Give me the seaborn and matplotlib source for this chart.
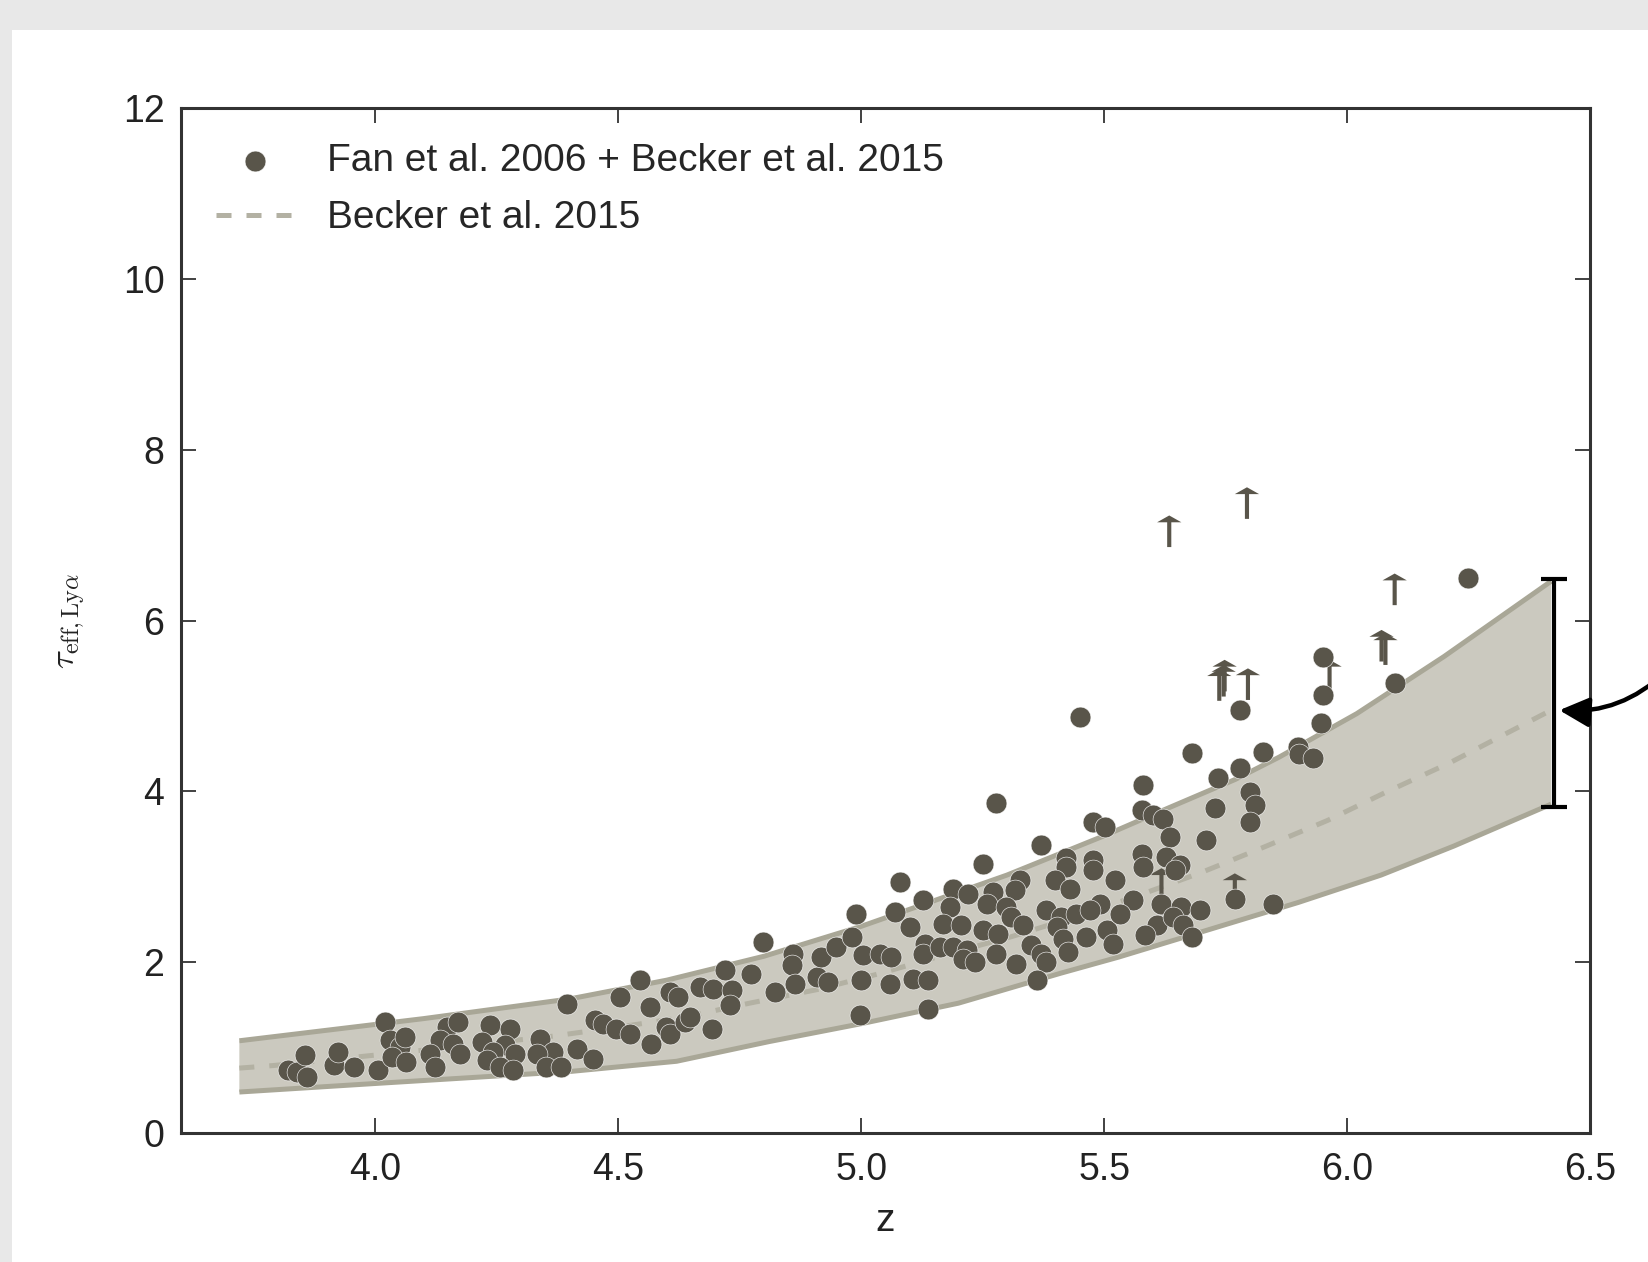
import numpy as np
import pandas as pd
import matplotlib
matplotlib.use("Agg")
import matplotlib.pyplot as plt
from matplotlib.patches import Rectangle
import seaborn as sns

# ---- Lyman-alpha effective optical depth measurements (detections) ----
z_obs = [3.821, 3.838, 3.855, 3.859, 3.914, 3.924, 3.955, 4.020, 4.030, 4.051,
         4.061, 4.006, 4.034, 4.064, 4.147, 4.171, 4.133, 4.160, 4.112, 4.174,
         4.123, 4.236, 4.277, 4.219, 4.267, 4.243, 4.287, 4.229, 4.256, 4.284,
         4.339, 4.366, 4.332, 4.352, 4.383, 4.394, 4.414,
         4.448, 4.452, 4.469, 4.503, 4.496, 4.524, 4.544, 4.565, 4.568, 4.599,
         4.606, 4.623, 4.606, 4.637, 4.647, 4.668, 4.695, 4.692, 4.719, 4.733,
         4.730, 4.774, 4.798, 4.822, 4.860, 4.857, 4.863, 4.908, 4.918, 4.932,
         4.949, 4.980, 4.990, 4.997, 5.004, 5.000,
         5.278, 5.477, 5.501, 5.371, 5.251, 5.079, 5.422, 5.477, 5.477, 5.422,
         5.522, 5.398, 5.429, 5.069, 5.128, 5.189, 5.220, 5.182, 5.271, 5.326,
         5.316, 5.258, 5.299, 5.100, 5.169, 5.206, 5.251, 5.282, 5.309, 5.333,
         5.381, 5.412, 5.443, 5.491, 5.470, 5.402, 5.416, 5.463, 5.505, 5.518,
         5.038, 5.062, 5.131, 5.127, 5.162, 5.189, 5.217, 5.210, 5.234, 5.278,
         5.319, 5.350, 5.371, 5.381, 5.426, 5.059, 5.107, 5.138, 5.138, 5.361,
         5.680, 5.827, 5.580, 5.734, 5.779, 5.800, 5.810, 5.800, 5.728, 5.577,
         5.601, 5.621, 5.635, 5.710, 5.577, 5.580, 5.628, 5.656, 5.645, 5.618,
         5.769, 5.659, 5.697, 5.848, 5.560, 5.608, 5.584, 5.642, 5.662, 5.680,
         5.532,
         6.249, 5.950, 5.950, 5.947, 5.899, 5.902, 5.930, 6.098,
         5.450, 5.779]
tau_obs = [0.734, 0.715, 0.910, 0.656, 0.793, 0.949, 0.774, 1.301, 1.086, 1.008,
           1.125, 0.734, 0.891, 0.832, 1.242, 1.301, 1.086, 1.047, 0.930, 0.930,
           0.774, 1.262, 1.223, 1.066, 1.027, 0.949, 0.930, 0.852, 0.774, 0.734,
           1.105, 0.949, 0.930, 0.774, 0.774, 1.515, 0.988,
           0.871, 1.320, 1.280, 1.590, 1.220, 1.164, 1.789, 1.476, 1.047, 1.242,
           1.652, 1.593, 1.164, 1.301, 1.359, 1.711, 1.691, 1.223, 1.906, 1.672,
           1.496, 1.867, 2.238, 1.652, 2.101, 1.964, 1.750, 1.828, 2.062, 1.769,
           2.179, 2.296, 2.570, 1.379, 2.082, 1.789,
           3.858, 3.643, 3.585, 3.370, 3.155, 2.940, 3.214, 3.194, 3.077, 3.116,
           2.960, 2.960, 2.862, 2.589, 2.726, 2.862, 2.804, 2.647, 2.823, 2.960,
           2.843, 2.686, 2.647, 2.413, 2.452, 2.433, 2.374, 2.335, 2.530, 2.433,
           2.608, 2.530, 2.569, 2.686, 2.608, 2.413, 2.277, 2.296, 2.374, 2.218,
           2.101, 2.062, 2.218, 2.101, 2.179, 2.179, 2.140, 2.042, 2.003, 2.101,
           1.984, 2.198, 2.101, 2.003, 2.120, 1.749, 1.808, 1.789, 1.456, 1.789,
           4.444, 4.463, 4.073, 4.151, 4.268, 3.995, 3.839, 3.643, 3.800, 3.780,
           3.721, 3.682, 3.468, 3.429, 3.272, 3.116, 3.233, 3.136, 3.077, 2.687,
           2.745, 2.648, 2.609, 2.687, 2.726, 2.433, 2.316, 2.530, 2.433, 2.296,
           2.570,
           6.493, 5.576, 5.127, 4.795, 4.521, 4.443, 4.385, 5.263,
           4.873, 4.952]

# ---- lower limits on tau (drawn as upward arrows) ----
z_lim = [5.634, 5.794, 6.098, 6.071, 6.079, 5.737, 5.748, 5.746, 5.796,
         5.964, 5.769, 5.618]
tau_lim = [6.86, 7.19, 6.18, 5.52, 5.48, 5.06, 5.17, 5.11, 5.07,
           5.17, 2.67, 2.73]

# ---- Becker et al. 2015 model: median and envelope ----
z_hi = [3.72, 4.10, 4.40, 4.60, 4.80, 5.00, 5.30, 5.50, 5.63, 5.77, 5.86,
        6.02, 6.20, 6.42]
tau_hi = [1.08, 1.34, 1.57, 1.79, 2.07, 2.42, 3.02, 3.48, 3.80, 4.14, 4.40,
          4.91, 5.58, 6.46]
z_lo = [3.72, 4.00, 4.40, 4.62, 4.81, 5.00, 5.20, 5.41, 5.53, 5.90, 6.07,
        6.22, 6.42]
tau_lo = [0.48, 0.58, 0.72, 0.84, 1.07, 1.28, 1.52, 1.87, 2.06, 2.70, 3.02,
          3.36, 3.85]
z_mid = [3.72, 3.79, 4.15, 4.36, 4.50, 4.63, 4.77, 4.91, 5.04, 5.18, 5.31,
         5.44, 5.57, 5.70, 5.83, 5.96, 6.08, 6.21, 6.42]
tau_mid = [0.76, 0.79, 1.00, 1.13, 1.24, 1.35, 1.52, 1.68, 1.87, 2.10, 2.30,
           2.53, 2.78, 3.05, 3.35, 3.66, 3.99, 4.33, 4.95]

# spread marker at the high-redshift end
z_spread = 6.425
tau_spread_lo, tau_spread_hi = 3.82, 6.49

x_ticks = [4.0, 4.5, 5.0, 5.5, 6.0, 6.5]
y_ticks = [0, 2, 4, 6, 8, 10, 12]

label_obs = "Fan et al. 2006 + Becker et al. 2015"
label_model = "Becker et al. 2015"

DOT = "#59554a"
FILL = "#cbc9bf"
EDGE = "#a9a797"
DASH = "#b3b1a3"
SPINE = "#333333"

sns.set_style("ticks")
plt.rcParams["font.family"] = ["Liberation Sans", "DejaVu Sans"]
plt.rcParams["mathtext.fontset"] = "cm"

fig = plt.figure(figsize=(16.49, 12.62), dpi=100)
fig.patch.set_facecolor("#e8e8e8")
fig.patches.append(Rectangle((12 / 1649, 0), 1, 1 - 30 / 1262,
                             transform=fig.transFigure, facecolor="white",
                             edgecolor="none", zorder=-10))
ax = fig.add_axes([0.1098, 0.1022, 0.9642 - 0.1098, 0.9144 - 0.1022])

# envelope
poly_z = list(z_hi) + list(z_lo[::-1])
poly_t = list(tau_hi) + list(tau_lo[::-1])
ax.fill(poly_z, poly_t, color=FILL, lw=0, zorder=1)
ax.plot(z_hi, tau_hi, color=EDGE, lw=3.6, solid_capstyle="butt", zorder=1.5)
ax.plot(z_lo, tau_lo, color=EDGE, lw=3.6, solid_capstyle="butt", zorder=1.5)

# median model
mid_df = pd.DataFrame({"z": z_mid, "tau": tau_mid})
sns.lineplot(data=mid_df, x="z", y="tau", ax=ax, color=DASH, lw=3.6,
             dashes=False, sort=False, zorder=2, label=label_model)
ax.lines[-1].set_dashes((3.0, 3.0))

# lower limits
for zl, tl in zip(z_lim, tau_lim):
    ax.arrow(zl, tl, 0, 0.37, width=0.0085, head_width=0.05, head_length=0.08,
             length_includes_head=True, color=DOT, lw=0, zorder=3)

# detections
obs_df = pd.DataFrame({"z": z_obs, "tau": tau_obs})
sns.scatterplot(data=obs_df, x="z", y="tau", ax=ax, color=DOT, s=225,
                edgecolor="white", linewidth=0.4, zorder=4, label=label_obs)

# spread bar
mid_val = 0.5 * (tau_spread_lo + tau_spread_hi)
ax.errorbar([z_spread], [mid_val],
            yerr=[[mid_val - tau_spread_lo], [tau_spread_hi - mid_val]],
            fmt="none", ecolor="black", elinewidth=3.0, capsize=9.5,
            capthick=3.0, zorder=5)

ax.annotate("", xy=(6.437, 4.95), xycoords="data",
            xytext=(1.01, 1 - 672 / 1262), textcoords="figure fraction",
            arrowprops=dict(arrowstyle="-|>", color="black", lw=3.2,
                            connectionstyle="arc3,rad=-0.22",
                            mutation_scale=45, shrinkA=0, shrinkB=0),
            annotation_clip=False, zorder=6)

ax.set_xlim(3.6, 6.5)
ax.set_ylim(0, 12)
ax.set_xticks(x_ticks)
ax.set_xticklabels([f"{v:.1f}" for v in x_ticks])
ax.set_yticks(y_ticks)
ax.set_yticklabels([str(v) for v in y_ticks])

for sp in ax.spines.values():
    sp.set_visible(True)
    sp.set_linewidth(2.2)
    sp.set_color(SPINE)
ax.tick_params(axis="both", which="both", direction="in", top=True,
               right=True, length=11, width=1.3, color=SPINE,
               labelsize=27, labelcolor="#222222")
ax.tick_params(axis="x", pad=14)
ax.tick_params(axis="y", pad=12)

ax.set_xlabel("z", fontsize=28, color="#222222")
ax.xaxis.set_label_coords(0.5, -0.068)
ax.set_ylabel(r"$\tau_{\rm eff,Ly\alpha}$", fontsize=25, color="#222222")
ax.yaxis.set_label_coords(-0.066, 0.5)

handles, labels = ax.get_legend_handles_labels()
order = [labels.index(label_obs), labels.index(label_model)]
ax.legend([handles[i] for i in order], [labels[i] for i in order],
          loc="upper left", frameon=False, fontsize=28, handlelength=2.0,
          handletextpad=0.85, borderaxespad=0.5, borderpad=0.4,
          labelspacing=0.55, markerscale=1.0)

fig.savefig("out.png", dpi=100, facecolor=fig.get_facecolor())
